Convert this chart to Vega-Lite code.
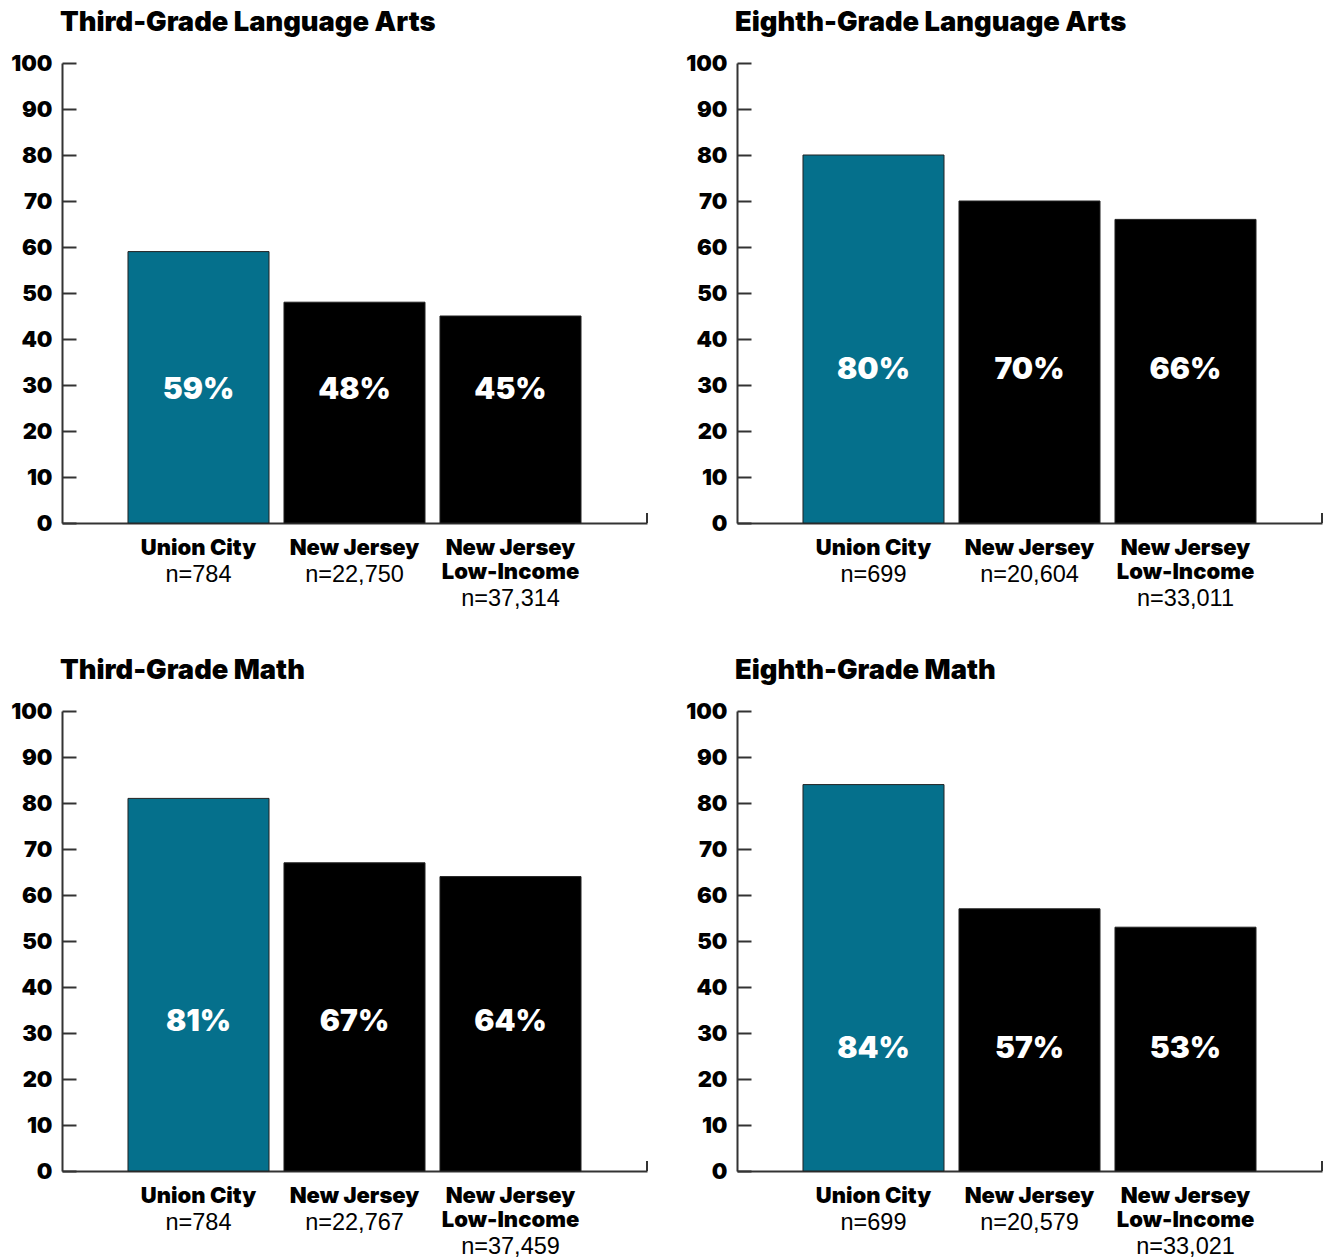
{
  "$schema": "https://vega.github.io/schema/vega-lite/v6.json",
  "background": "white",
  "padding": {"left": 10, "top": 8, "right": 0, "bottom": 0},
  "config": {
    "view": {"stroke": null},
    "axis": {"domainColor": "#333", "domainWidth": 2, "labelColor": "black", "grid": false, "title": null},
    "title": {"anchor": "start", "frame": "group", "font": "Inter", "fontWeight": 900, "fontSize": 27.3, "color": "black", "offset": 16, "dx": -2}
  },
  "datasets": {
    "scores": [
      {"panel": "Third-Grade Language Arts", "group": "Union City", "value": 59, "n": 784},
      {"panel": "Third-Grade Language Arts", "group": "New Jersey", "value": 48, "n": 22750},
      {"panel": "Third-Grade Language Arts", "group": "New Jersey Low-Income", "value": 45, "n": 37314},
      {"panel": "Eighth-Grade Language Arts", "group": "Union City", "value": 80, "n": 699},
      {"panel": "Eighth-Grade Language Arts", "group": "New Jersey", "value": 70, "n": 20604},
      {"panel": "Eighth-Grade Language Arts", "group": "New Jersey Low-Income", "value": 66, "n": 33011},
      {"panel": "Third-Grade Math", "group": "Union City", "value": 81, "n": 784},
      {"panel": "Third-Grade Math", "group": "New Jersey", "value": 67, "n": 22767},
      {"panel": "Third-Grade Math", "group": "New Jersey Low-Income", "value": 64, "n": 37459},
      {"panel": "Eighth-Grade Math", "group": "Union City", "value": 84, "n": 699},
      {"panel": "Eighth-Grade Math", "group": "New Jersey", "value": 57, "n": 20579},
      {"panel": "Eighth-Grade Math", "group": "New Jersey Low-Income", "value": 53, "n": 33021}
    ]
  },
  "spacing": 45,
  "vconcat": [
    {
      "spacing": 37,
      "hconcat": [
        {
          "title": "Third-Grade Language Arts",
          "width": 585, "height": 460,
          "data": {"name": "scores"},
          "transform": [
            {"filter": "datum.panel == 'Third-Grade Language Arts'"},
            {"calculate": "datum.value + '%'", "as": "pct"},
            {"calculate": "'n=' + format(datum.n, ',')", "as": "nlab"}
          ],
          "encoding": {
            "x": {"field": "group", "type": "nominal", "sort": null,
              "scale": {"paddingInner": 0.096, "paddingOuter": 0.423},
              "axis": {"ticks": false, "labelAngle": 0, "labelFont": "Inter", "labelFontWeight": 900, "labelFontSize": 22, "labelBaseline": "top", "labelPadding": 14, "labelLineHeight": 24,
                "labelExpr": "datum.value == 'New Jersey Low-Income' ? ['New Jersey', 'Low-Income'] : datum.value"}}
          },
          "layer": [
            {"mark": {"type": "bar", "stroke": "#222", "strokeWidth": 1},
              "encoding": {
                "y": {"field": "value", "type": "quantitative", "scale": {"domain": [0, 100]},
                  "axis": {"values": [0,10,20,30,40,50,60,70,80,90,100], "tickSize": -14, "tickWidth": 2, "tickColor": "#333", "labelPadding": 24, "labelFont": "Inter", "labelFontWeight": 900, "labelFontSize": 22}},
                "color": {"field": "group", "type": "nominal", "sort": null, "scale": {"domain": ["Union City", "New Jersey", "New Jersey Low-Income"], "range": ["#05708c", "#000000", "#000000"]}, "legend": null}
              }},
            {"mark": {"type": "text", "color": "white", "font": "Inter", "fontWeight": 900, "fontSize": 30, "baseline": "middle"},
              "encoding": {"y": {"datum": 29}, "text": {"field": "pct"}}},
            {"transform": [{"filter": "datum.group != 'New Jersey Low-Income'"}],
              "mark": {"type": "text", "color": "black", "font": "Liberation Sans", "fontSize": 23.5, "baseline": "top", "dy": 40},
              "encoding": {"y": {"datum": 0}, "text": {"field": "nlab"}}},
            {"transform": [{"filter": "datum.group == 'New Jersey Low-Income'"}],
              "mark": {"type": "text", "color": "black", "font": "Liberation Sans", "fontSize": 23.5, "baseline": "top", "dy": 64},
              "encoding": {"y": {"datum": 0}, "text": {"field": "nlab"}}},
            {"mark": {"type": "rule", "color": "#333", "strokeWidth": 2},
              "encoding": {"x": {"value": "width"}, "y": {"datum": 0}, "y2": {"datum": 2.2}}}
          ]
        },
        {
          "title": "Eighth-Grade Language Arts",
          "width": 585, "height": 460,
          "data": {"name": "scores"},
          "transform": [
            {"filter": "datum.panel == 'Eighth-Grade Language Arts'"},
            {"calculate": "datum.value + '%'", "as": "pct"},
            {"calculate": "'n=' + format(datum.n, ',')", "as": "nlab"}
          ],
          "encoding": {
            "x": {"field": "group", "type": "nominal", "sort": null,
              "scale": {"paddingInner": 0.096, "paddingOuter": 0.423},
              "axis": {"ticks": false, "labelAngle": 0, "labelFont": "Inter", "labelFontWeight": 900, "labelFontSize": 22, "labelBaseline": "top", "labelPadding": 14, "labelLineHeight": 24,
                "labelExpr": "datum.value == 'New Jersey Low-Income' ? ['New Jersey', 'Low-Income'] : datum.value"}}
          },
          "layer": [
            {"mark": {"type": "bar", "stroke": "#222", "strokeWidth": 1},
              "encoding": {
                "y": {"field": "value", "type": "quantitative", "scale": {"domain": [0, 100]},
                  "axis": {"values": [0,10,20,30,40,50,60,70,80,90,100], "tickSize": -14, "tickWidth": 2, "tickColor": "#333", "labelPadding": 24, "labelFont": "Inter", "labelFontWeight": 900, "labelFontSize": 22}},
                "color": {"field": "group", "type": "nominal", "sort": null, "scale": {"domain": ["Union City", "New Jersey", "New Jersey Low-Income"], "range": ["#05708c", "#000000", "#000000"]}, "legend": null}
              }},
            {"mark": {"type": "text", "color": "white", "font": "Inter", "fontWeight": 900, "fontSize": 30, "baseline": "middle"},
              "encoding": {"y": {"datum": 33.3}, "text": {"field": "pct"}}},
            {"transform": [{"filter": "datum.group != 'New Jersey Low-Income'"}],
              "mark": {"type": "text", "color": "black", "font": "Liberation Sans", "fontSize": 23.5, "baseline": "top", "dy": 40},
              "encoding": {"y": {"datum": 0}, "text": {"field": "nlab"}}},
            {"transform": [{"filter": "datum.group == 'New Jersey Low-Income'"}],
              "mark": {"type": "text", "color": "black", "font": "Liberation Sans", "fontSize": 23.5, "baseline": "top", "dy": 64},
              "encoding": {"y": {"datum": 0}, "text": {"field": "nlab"}}},
            {"mark": {"type": "rule", "color": "#333", "strokeWidth": 2},
              "encoding": {"x": {"value": "width"}, "y": {"datum": 0}, "y2": {"datum": 2.2}}}
          ]
        }
      ]
    },
    {
      "spacing": 37,
      "hconcat": [
        {
          "title": "Third-Grade Math",
          "width": 585, "height": 460,
          "data": {"name": "scores"},
          "transform": [
            {"filter": "datum.panel == 'Third-Grade Math'"},
            {"calculate": "datum.value + '%'", "as": "pct"},
            {"calculate": "'n=' + format(datum.n, ',')", "as": "nlab"}
          ],
          "encoding": {
            "x": {"field": "group", "type": "nominal", "sort": null,
              "scale": {"paddingInner": 0.096, "paddingOuter": 0.423},
              "axis": {"ticks": false, "labelAngle": 0, "labelFont": "Inter", "labelFontWeight": 900, "labelFontSize": 22, "labelBaseline": "top", "labelPadding": 14, "labelLineHeight": 24,
                "labelExpr": "datum.value == 'New Jersey Low-Income' ? ['New Jersey', 'Low-Income'] : datum.value"}}
          },
          "layer": [
            {"mark": {"type": "bar", "stroke": "#222", "strokeWidth": 1},
              "encoding": {
                "y": {"field": "value", "type": "quantitative", "scale": {"domain": [0, 100]},
                  "axis": {"values": [0,10,20,30,40,50,60,70,80,90,100], "tickSize": -14, "tickWidth": 2, "tickColor": "#333", "labelPadding": 24, "labelFont": "Inter", "labelFontWeight": 900, "labelFontSize": 22}},
                "color": {"field": "group", "type": "nominal", "sort": null, "scale": {"domain": ["Union City", "New Jersey", "New Jersey Low-Income"], "range": ["#05708c", "#000000", "#000000"]}, "legend": null}
              }},
            {"mark": {"type": "text", "color": "white", "font": "Inter", "fontWeight": 900, "fontSize": 30, "baseline": "middle"},
              "encoding": {"y": {"datum": 32.4}, "text": {"field": "pct"}}},
            {"transform": [{"filter": "datum.group != 'New Jersey Low-Income'"}],
              "mark": {"type": "text", "color": "black", "font": "Liberation Sans", "fontSize": 23.5, "baseline": "top", "dy": 40},
              "encoding": {"y": {"datum": 0}, "text": {"field": "nlab"}}},
            {"transform": [{"filter": "datum.group == 'New Jersey Low-Income'"}],
              "mark": {"type": "text", "color": "black", "font": "Liberation Sans", "fontSize": 23.5, "baseline": "top", "dy": 64},
              "encoding": {"y": {"datum": 0}, "text": {"field": "nlab"}}},
            {"mark": {"type": "rule", "color": "#333", "strokeWidth": 2},
              "encoding": {"x": {"value": "width"}, "y": {"datum": 0}, "y2": {"datum": 2.2}}}
          ]
        },
        {
          "title": "Eighth-Grade Math",
          "width": 585, "height": 460,
          "data": {"name": "scores"},
          "transform": [
            {"filter": "datum.panel == 'Eighth-Grade Math'"},
            {"calculate": "datum.value + '%'", "as": "pct"},
            {"calculate": "'n=' + format(datum.n, ',')", "as": "nlab"}
          ],
          "encoding": {
            "x": {"field": "group", "type": "nominal", "sort": null,
              "scale": {"paddingInner": 0.096, "paddingOuter": 0.423},
              "axis": {"ticks": false, "labelAngle": 0, "labelFont": "Inter", "labelFontWeight": 900, "labelFontSize": 22, "labelBaseline": "top", "labelPadding": 14, "labelLineHeight": 24,
                "labelExpr": "datum.value == 'New Jersey Low-Income' ? ['New Jersey', 'Low-Income'] : datum.value"}}
          },
          "layer": [
            {"mark": {"type": "bar", "stroke": "#222", "strokeWidth": 1},
              "encoding": {
                "y": {"field": "value", "type": "quantitative", "scale": {"domain": [0, 100]},
                  "axis": {"values": [0,10,20,30,40,50,60,70,80,90,100], "tickSize": -14, "tickWidth": 2, "tickColor": "#333", "labelPadding": 24, "labelFont": "Inter", "labelFontWeight": 900, "labelFontSize": 22}},
                "color": {"field": "group", "type": "nominal", "sort": null, "scale": {"domain": ["Union City", "New Jersey", "New Jersey Low-Income"], "range": ["#05708c", "#000000", "#000000"]}, "legend": null}
              }},
            {"mark": {"type": "text", "color": "white", "font": "Inter", "fontWeight": 900, "fontSize": 30, "baseline": "middle"},
              "encoding": {"y": {"datum": 26.5}, "text": {"field": "pct"}}},
            {"transform": [{"filter": "datum.group != 'New Jersey Low-Income'"}],
              "mark": {"type": "text", "color": "black", "font": "Liberation Sans", "fontSize": 23.5, "baseline": "top", "dy": 40},
              "encoding": {"y": {"datum": 0}, "text": {"field": "nlab"}}},
            {"transform": [{"filter": "datum.group == 'New Jersey Low-Income'"}],
              "mark": {"type": "text", "color": "black", "font": "Liberation Sans", "fontSize": 23.5, "baseline": "top", "dy": 64},
              "encoding": {"y": {"datum": 0}, "text": {"field": "nlab"}}},
            {"mark": {"type": "rule", "color": "#333", "strokeWidth": 2},
              "encoding": {"x": {"value": "width"}, "y": {"datum": 0}, "y2": {"datum": 2.2}}}
          ]
        }
      ]
    }
  ]
}
